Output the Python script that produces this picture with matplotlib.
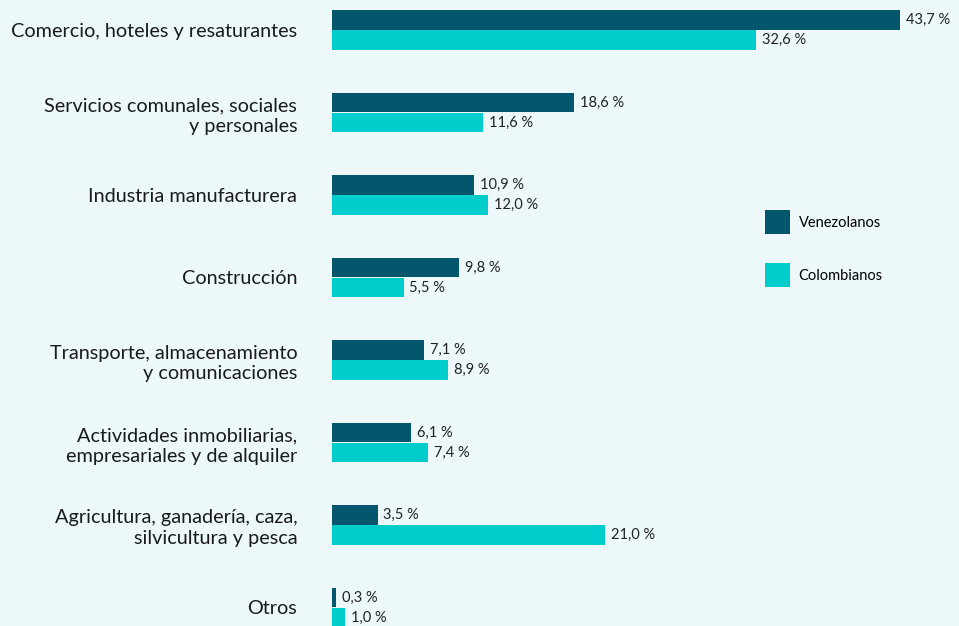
import matplotlib.pyplot as plt
import numpy as np

# data
categories = ['Comercio, hoteles y resaturantes',
              'Servicios comunales, sociales\ny personales',
              'Industria manufacturera',
              'Construcción',
              'Transporte, almacenamiento\ny comunicaciones',
              'Actividades inmobiliarias,\nempresariales y de alquiler',
              'Agricultura, ganadería, caza,\nsilvicultura y pesca',
              'Otros']
venezolanos = [43.7, 18.6, 10.9, 9.8, 7.1, 6.1, 3.5, 0.3]
colombianos = [32.6, 11.6, 12.0, 5.5, 8.9, 7.4, 21.0, 1.0]

bg = '#edf8fa'
c_ven = '#03566b'
c_col = '#00cccc'

plt.rcParams['font.family'] = ['Lato', 'DejaVu Sans']

fig = plt.figure(figsize=(9.59, 6.26), dpi=100, facecolor=bg)
ax = fig.add_axes([332 / 959, 0, 627 / 959, 1], facecolor=bg)

y = np.arange(len(categories))
h = 0.235
ax.barh(y - 0.12, venezolanos, height=h, color=c_ven, label='Venezolanos')
ax.barh(y + 0.12, colombianos, height=h, color=c_col, label='Colombianos')

for yi, v in zip(y, venezolanos):
    ax.text(v + 0.45, yi - 0.12, f'{v:.1f} %'.replace('.', ','),
            va='center', ha='left', fontsize=10.5, color='#222222')
for yi, v in zip(y, colombianos):
    ax.text(v + 0.45, yi + 0.12, f'{v:.1f} %'.replace('.', ','),
            va='center', ha='left', fontsize=10.5, color='#222222')

ax.set_xlim(0, 627 / 13.0)
ax.set_ylim((626 - 30) / 82.5, -30 / 82.5)
ax.set_yticks(y)
ax.set_yticklabels(categories, fontsize=14.3, color='#1a1a1a', linespacing=1.28)
ax.tick_params(axis='y', length=0, pad=25)
ax.set_xticks([])
for s in ax.spines.values():
    s.set_visible(False)

leg = ax.legend(loc='upper left', bbox_to_anchor=(420 / 627, 1 - 197 / 626),
                frameon=False, fontsize=10.5, handlelength=1.7, handleheight=2.15,
                labelspacing=2.0, handletextpad=0.6)

plt.savefig('out.png', dpi=100, facecolor=bg)
